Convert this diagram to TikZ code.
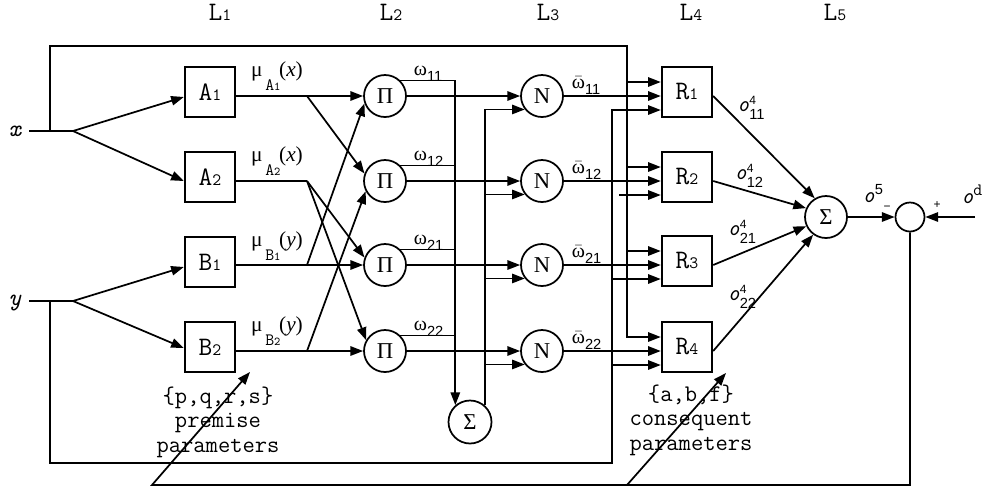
\documentclass[tikz,border=0pt]{standalone}
\usepackage{fontspec}
\setmainfont{Liberation Serif}
\newfontfamily\hel{Liberation Sans}
\newcommand\cour{\ttfamily}
\usetikzlibrary{arrows.meta,calc}
\newcommand\bl[2]{{\cour\fontsize{20pt}{20pt}\selectfont #1\fontsize{13pt}{13pt}\selectfont #2}}
\newcommand\sym[1]{{\fontsize{17pt}{17pt}\selectfont #1}}
\newcommand\mulab[3]{{\fontsize{16pt}{16pt}\selectfont μ}\kern2pt\raisebox{-10pt}{\cour\fontsize{13pt}{13pt}\selectfont #1\fontsize{9pt}{9pt}\selectfont #2}\kern-1pt{\fontsize{16pt}{16pt}\selectfont(\textit{#3})}}
\newcommand\wlab[1]{{\fontsize{15pt}{15pt}\selectfont ω}\raisebox{-4pt}{\hel\fontsize{11pt}{11pt}\selectfont #1}}
\newcommand\wblab[1]{{\fontsize{15pt}{15pt}\selectfont\ensuremath{\bar{\hbox{ω}}}}\raisebox{-4pt}{\hel\fontsize{11pt}{11pt}\selectfont #1}}
\newcommand\olab[2]{{\cour\itshape\fontsize{17pt}{17pt}\selectfont o}\raisebox{-6pt}{\hel\fontsize{11pt}{11pt}\selectfont\shortstack[l]{\fontsize{9pt}{9pt}\selectfont #1\\[1pt]#2}}}
\begin{document}
\begin{tikzpicture}[x=0.75pt,y=-0.75pt,line width=1.3pt,
  arr/.style={-{Triangle[length=9.5pt,width=7pt]}},
  box/.style={draw,minimum width=38pt,minimum height=37.5pt,inner sep=0pt},
  circ/.style={draw,circle,minimum size=31.5pt,inner sep=0pt},
  lab/.style={inner sep=0pt},
  txt/.style={inner sep=0pt,align=center,font=\cour\fontsize{17.9pt}{18.4pt}\selectfont}]
\useasboundingbox (0,0) rectangle (985,487);

% layer labels
\foreach \n/\xx in {1/220,2/391,3/548,4/691,5/835}
  \node[lab] (L\n) at (\xx,12) {\bl{L}{\n}};

% main rows
\foreach \i/\r in {1/96,2/181,3/265,4/351}{
  \node[circ] (P\i) at (385,\r) {\sym{Π}};
  \node[circ] (N\i) at (542,\r) {\sym{N}};
  \node[box] (R\i) at (687,\r-4) {\bl{R}{\i}};
}
\node[box] (A1) at (210,92) {\bl{A}{1}};
\node[box] (A2) at (210,177) {\bl{A}{2}};
\node[box] (B1) at (210,262) {\bl{B}{1}};
\node[box] (B2) at (210,347) {\bl{B}{2}};
\node[circ,minimum size=32.25pt] (S) at (470,422) {\sym{Σ}};
\node[circ] (S2) at (826,217) {\sym{Σ}};
\node[circ,minimum size=21.75pt] (C) at (910,217) {};

% inputs
\node[lab,font=\cour\itshape\fontsize{18pt}{18pt}\selectfont] (xl) at (15,131) {x};
\node[lab,font=\cour\itshape\fontsize{18pt}{18pt}\selectfont] (yl) at (15,303) {y};
\coordinate (xs) at (29,131); \coordinate (jx) at (73,131); \coordinate (tx) at (50,131);
\coordinate (ys) at (29,301); \coordinate (jy) at (73,301); \coordinate (ty) at (50,301);
\draw (xs) -- (jx);
\draw (ys) -- (jy);
\draw[arr] (jx) -- ([yshift=-3.75pt]A1.west);
\draw[arr] (jx) -- ([yshift=-3pt]A2.west);
\draw[arr] (jy) -- ([yshift=-3.75pt]B1.west);
\draw[arr] (jy) -- ([yshift=-0.75pt]B2.west);

% layer 1 -> layer 2
\coordinate (ba1) at (307,96); \coordinate (ba2) at (307,181);
\coordinate (bb1) at (307,265); \coordinate (bb2) at (307,351);
\draw[arr] (A1.east |- ba1) -- (P1.west);
\draw[arr] (ba1) -- (P2.160);
\draw (A2.east |- ba2) -- (ba2);
\draw[arr] (ba2) -- (P3.160);
\draw[arr] (ba2) -- (P4.150);
\draw[arr] (B1.east |- bb1) -- (P3.west);
\draw[arr] (bb1) -- (P1.200);
\draw[arr] (B2.east |- bb2) -- (P4.west);
\draw[arr] (bb2) -- (P2.208);

% labels mu
\node[lab] (mA1) at (277,76) {\mulab{A}{1}{x}};
\node[lab] (mA2) at (277,161) {\mulab{A}{2}{x}};
\node[lab] (mB1) at (277,246) {\mulab{B}{1}{y}};
\node[lab] (mB2) at (277,331) {\mulab{B}{2}{y}};

% layer 2 -> layer 3
\foreach \i in {1,...,4} \draw[arr] (P\i.east) -- (N\i.west);
\draw[arr] (P1.45) -| (S.131);
\foreach \i in {2,3,4} \draw (P\i.45) -- (P\i.45 -| S.131);
\draw[arr] (S.49) |- (N1.218);
\foreach \i in {2,3,4} \draw[arr] (S.49 |- N\i.218) -- (N\i.218);
\foreach \i/\s in {1/11,2/12,3/21,4/22}{
  \node[lab,anchor=south west] (w\i) at ($(413,0 |- P\i)+(0,-14)$) {\wlab{\s}};
  \node[lab,anchor=south west] (wb\i) at ($(571,0 |- N\i)+(0,-1)$) {\wblab{\s}};
}

% layer 3 -> layer 4
\foreach \i in {1,...,4}{
  \draw[arr] (N\i.east) -- (N\i.east -| R\i.west);
  \coordinate (Ra\i) at ($(N\i.east -| R\i.west)+(0,-14)$);
  \coordinate (Rc\i) at ($(N\i.east -| R\i.west)+(0,14)$);
}
\coordinate (tr) at (627,46);
\draw[arr] (tx) |- (tr) |- (Ra4);
\foreach \i in {1,2,3} \draw[arr] (Ra\i -| tr) -- (Ra\i);
\coordinate (br) at (612,463);
\draw[arr] (ty) |- (br) |- (Rc1);
\foreach \i in {3,4} \draw[arr] (Rc\i -| br) -- (Rc\i);
\coordinate (stub) at (619,194);
\draw[arr] (Rc2 -| stub) -- (Rc2);

% layer 4 -> layer 5
\draw[arr] (R1.east |- N1.east) -- (S2.121);
\draw[arr] (R2.east |- N2.east) -- (S2.156);
\draw[arr] (R3.east |- N3.east) -- (S2.205);
\draw[arr] (R4.east |- N4.east) -- (S2.234);
\node[lab] (o11) at (751,108) {\olab{4}{11}};
\node[lab] (o12) at (749,176) {\olab{4}{12}};
\node[lab] (o21) at (742,232) {\olab{4}{21}};
\node[lab] (o22) at (742,297) {\olab{4}{22}};

% output comparison
\draw[arr] (S2) -- (C);
\coordinate (od) at (975,217);
\draw[arr] (od) -- (C);
\node[lab] (o5) at (873,194) {{\cour\itshape\fontsize{17pt}{17pt}\selectfont o}\raisebox{6pt}{\hel\fontsize{11pt}{11pt}\selectfont 5}};
\node[lab] (odl) at (972,194) {{\cour\itshape\fontsize{17pt}{17pt}\selectfont o}\raisebox{6pt}{\cour\fontsize{13pt}{13pt}\selectfont d}};
\node[lab,font=\hel\fontsize{9pt}{9pt}\selectfont] (mi) at (887,208) {−};
\node[lab,font=\hel\fontsize{9pt}{9pt}\selectfont] (pl) at (937,205) {+};

% feedback
\coordinate (fbL) at (152,485); \coordinate (fbM) at (627,485);
\coordinate (tp1) at (250,372); \coordinate (tp2) at (726,373);
\draw[arr] (C.south) |- (fbL) -- (tp1);
\draw[arr] (fbM) -- (tp2);

% parameter texts
\node[txt] (pp) at (218,422) {\{p,q,r,s\}\\premise\\parameters};
\node[txt] (cp) at (691,420) {\{a,b,f\}\\consequent\\parameters};
\end{tikzpicture}
\end{document}
